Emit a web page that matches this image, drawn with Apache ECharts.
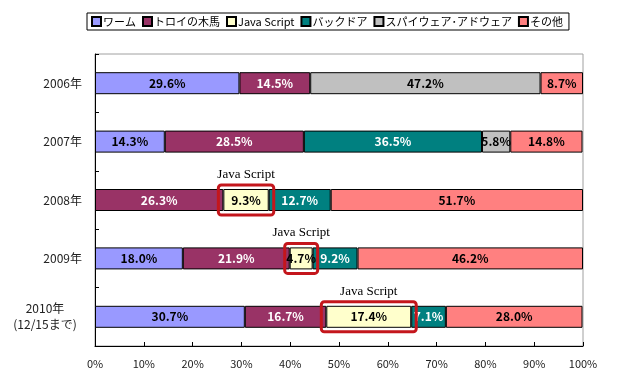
<!DOCTYPE html>
<html><head><meta charset="utf-8">
<script src="https://cdn.jsdelivr.net/npm/echarts@6/dist/echarts.min.js"></script>
<style>html,body{margin:0;padding:0;background:#fff}#c{width:640px;height:382px}</style>
</head><body><div id="c"></div>
<script>
const categories = ['2006年', '2007年', '2008年', '2009年', '2010年\n(12/15まで)'];
const seriesNames = ['ワーム', 'トロイの木馬', 'Java Script', 'バックドア', 'スパイウェア･アドウェア', 'その他'];
const worm     = [29.6, 14.3, null, 18.0, 30.7];
const trojan   = [14.5, 28.5, 26.3, 21.9, 16.7];
const java     = [null, null, 9.3, 4.7, 17.4];
const backdoor = [null, 36.5, 12.7, 9.2, 7.1];
const spyware  = [47.2, 5.8, null, null, null];
const other    = [8.7, 14.8, 51.7, 46.2, 28.0];
const highlighted = [2, 3, 4];   // category indexes whose Java Script share is boxed
const xTicks = [0, 10, 20, 30, 40, 50, 60, 70, 80, 90, 100];

const values = [worm, trojan, java, backdoor, spyware, other];
const colors = ['#9999FF', '#993366', '#FFFFCC', '#008080', '#C0C0C0', '#FF8080'];
const labelColors = ['#000', '#fff', '#000', '#fff', '#000', '#000'];

const jpFont = '"Noto Sans CJK JP", "Noto Sans", sans-serif';

const chart = echarts.init(document.getElementById('c'), null, {renderer: 'canvas'});

const barSeries = values.map((arr, i) => ({
  name: seriesNames[i],
  type: 'bar',
  stack: 'total',
  barWidth: 22,
  data: arr,
  itemStyle: {color: colors[i], borderColor: '#000', borderWidth: 1},
  label: {
    show: true,
    position: 'inside',
    formatter: p => p.value == null ? '' : Number(p.value).toFixed(1) + '%',
    color: labelColors[i],
    fontFamily: jpFont,
    fontWeight: 'bold',
    fontSize: 12
  },
  emphasis: {disabled: true},
  animation: false,
  z: 2
}));

const boxData = highlighted.map(ci => {
  const start = (worm[ci] || 0) + (trojan[ci] || 0);
  return [ci, start, start + java[ci]];
});

const boxSeries = {
  type: 'custom',
  name: 'box',
  data: boxData,
  encode: {x: [1, 2], y: 0},
  animation: false,
  silent: true,
  z: 5,
  renderItem: function (params, api) {
    const ci = api.value(0);
    const p1 = api.coord([api.value(1), ci]);
    const p2 = api.coord([api.value(2), ci]);
    const h = 22;
    const pad = 5;
    const cx = (p1[0] + p2[0]) / 2;
    return {
      type: 'group',
      children: [
        {
          type: 'rect',
          shape: {x: p1[0] - pad, y: p1[1] - h / 2 - pad + 1, width: p2[0] - p1[0] + pad * 2, height: h + pad * 2 - 2, r: 3},
          style: {fill: 'none', stroke: '#C4161C', lineWidth: 3}
        },
        {
          type: 'text',
          x: cx, y: p1[1] - h / 2 - pad - 3,
          style: {text: 'Java Script', fill: '#000', font: '13px "Liberation Serif", "DejaVu Serif", serif', align: 'center', verticalAlign: 'bottom'}
        }
      ]
    };
  }
};

chart.setOption({
  animation: false,
  backgroundColor: '#fff',
  legend: {
    data: seriesNames,
    left: 87,
    top: 13,
    padding: [3, 6, 3, 4],
    borderColor: '#000',
    borderWidth: 1,
    borderRadius: 0,
    itemWidth: 9,
    itemHeight: 9,
    itemGap: 6,
    icon: 'rect',
    textStyle: {fontFamily: jpFont, fontSize: 11, color: '#000', padding: [0, 0, 0, -3]},
    selectedMode: false
  },
  grid: {left: 95, right: 57, top: 54, bottom: 36, show: true, borderColor: '#A0A0A0', borderWidth: 1, containLabel: false},
  xAxis: {
    type: 'value',
    min: 0, max: 100, interval: 10,
    axisLine: {show: true, lineStyle: {color: '#000', width: 1}},
    axisTick: {show: true, inside: true, length: 4, lineStyle: {color: '#000'}},
    splitLine: {show: false},
    axisLabel: {
      formatter: v => xTicks.indexOf(v) >= 0 ? v + '%' : '',
      color: '#222', fontFamily: jpFont, fontSize: 11, margin: 12
    }
  },
  yAxis: {
    type: 'category',
    data: categories,
    inverse: true,
    axisLine: {show: true, lineStyle: {color: '#000', width: 1}},
    axisTick: {show: true, inside: true, length: 4, lineStyle: {color: '#000'}},
    axisLabel: {
      margin: 13,
      color: '#222',
      fontFamily: jpFont,
      fontSize: 12,
      formatter: v => v.indexOf('\n') >= 0 ? v.split('\n').map(s => '{c|' + s + '}').join('\n') : v,
      rich: {c: {width: 74, align: 'center', fontFamily: jpFont, fontSize: 12, color: '#222', lineHeight: 16}}
    }
  },
  series: barSeries.concat([boxSeries])
});
</script>
</body></html>
